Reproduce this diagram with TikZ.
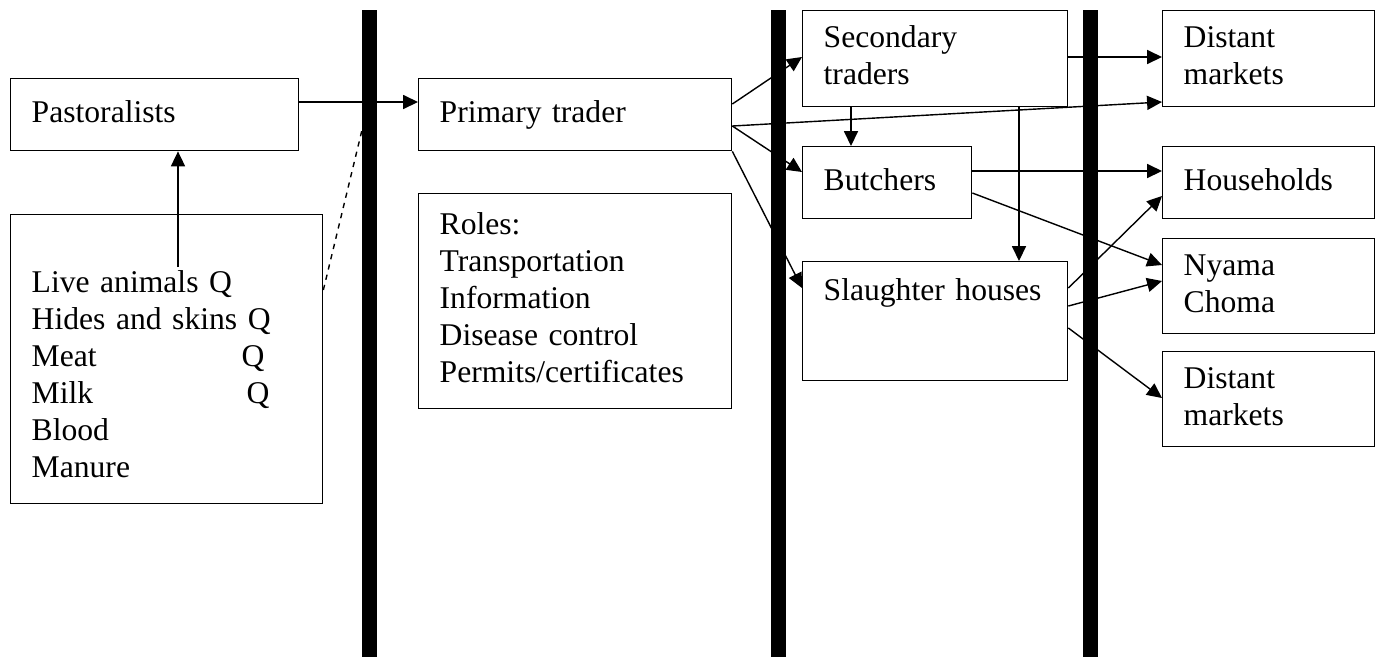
\documentclass[tikz,border=0pt]{standalone}
\usepackage{fontspec}
\setmainfont{Liberation Serif}
\usetikzlibrary{positioning, arrows.meta, calc}

\begin{document}
\begin{tikzpicture}[x=0.02cm, y=-0.02cm,
        box/.style={draw, rectangle, anchor=north west, align=left, line width=0.8pt,
            inner xsep=0.42cm, inner ysep=0pt, font=\fontsize{18}{21}\selectfont,
            execute at begin node=\strut, execute at end node=\strut},
        bar/.style={fill=black, rectangle, anchor=north west, inner sep=0pt,
            minimum width=0.3cm, minimum height=12.94cm},
        flow/.style={->, line width=0.8pt},
        >={Triangle[length=8.5pt, width=8pt]}]
        \useasboundingbox (0,0) rectangle (1376,657);

        % the three thick separators
        \node[bar] (bar1) at (362,10) {};
        \node[bar] (bar2) at (771,10) {};
        \node[bar] (bar3) at (1083,10) {};

        \node[box, text width=4.92cm, minimum height=1.44cm] (past) at (10,78) {Pastoralists};
        \node[box, text width=5.40cm, minimum height=5.78cm] (prod) at (10,214)
            {\mbox{}\\Live animals Q\\Hides and skins Q\\\makebox[4.2cm][l]{Meat}Q\\\makebox[4.3cm][l]{Milk}Q\\Blood\\Manure};
        \node[box, text width=5.42cm, minimum height=1.44cm] (prim) at (418,78) {Primary trader};
        \node[box, text width=5.42cm, minimum height=4.30cm] (roles) at (418,193)
            {Roles:\\Transportation\\Information\\Disease control\\Permits/certificates};
        \node[box, text width=4.46cm, minimum height=1.92cm] (sec) at (802,10) {Secondary\\traders};
        \node[box, text width=2.54cm, minimum height=1.44cm] (butch) at (802,146) {Butchers};
        \node[box, text width=4.46cm, minimum height=2.38cm] (slau) at (802,261) {Slaughter houses\\[11pt]\mbox{}};
        \node[box, text width=3.40cm, minimum height=1.92cm] (dist1) at (1162,10) {Distant\\markets};
        \node[box, text width=3.40cm, minimum height=1.44cm] (house) at (1162,146) {Households};
        \node[box, text width=3.40cm, minimum height=1.90cm] (nyama) at (1162,238) {Nyama\\Choma};
        \node[box, text width=3.40cm, minimum height=1.90cm] (dist2) at (1162,351) {Distant\\markets};
        \coordinate (live) at (178,267);

        \draw[flow] (live) -- (past.south -| live);
        \draw[line width=0.8pt, dashed] (prod.east |- 0,290) -- (bar1.west |- 0,130);
        \draw[flow] (past.east |- 0,102) -- (prim.west |- 0,102);
        \draw[flow] (prim.east |- 0,104) -- (sec.west |- 0,57);
        \draw[flow] (prim.east |- 0,126) -- (dist1.west |- 0,102);
        \draw[flow] (prim.east |- 0,126) -- (butch.west |- 0,172);
        \draw[flow] (prim.south east) -- (slau.west |- 0,288);
        \draw[flow] (sec.south -| 851,0) -- (butch.north -| 851,0);
        \draw[flow] (sec.south -| 1019,0) -- (slau.north -| 1019,0);
        \draw[flow] (sec.east |- 0,57) -- (dist1.west |- 0,57);
        \draw[flow] (butch.east |- 0,171) -- (house.west |- 0,171);
        \draw[flow] (butch.east |- 0,193) -- (nyama.west |- 0,265);
        \draw[flow] (slau.east |- 0,288) -- (house.west |- 0,196);
        \draw[flow] (slau.east |- 0,306) -- (nyama.west |- 0,281);
        \draw[flow] (slau.east |- 0,328) -- (dist2.west |- 0,398);
    \end{tikzpicture}
\end{document}
